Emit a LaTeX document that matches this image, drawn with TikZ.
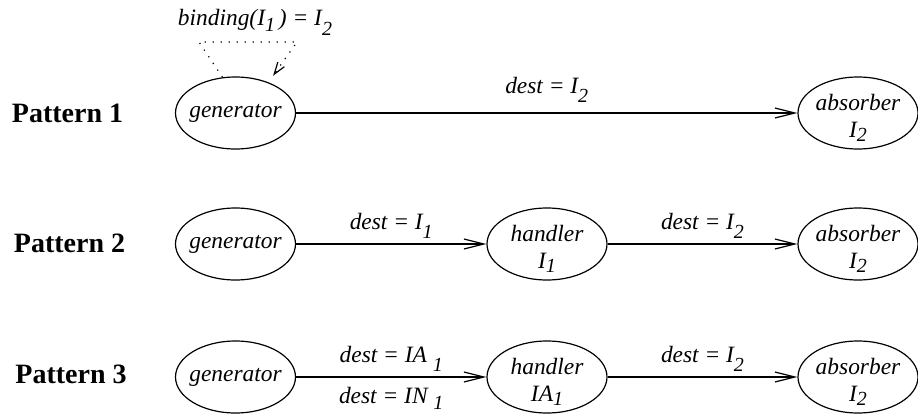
\documentclass[tikz,border=0pt]{standalone}
\usepackage{fontspec}
\setmainfont{Liberation Serif}
\usetikzlibrary{arrows.meta,shapes.geometric}
\newcommand{\subidx}[2][4.5pt]{\raisebox{-#1}{\fontsize{10}{12}\selectfont #2}}
\tikzset{
  flowarrow/.style={-{Straight Barb[length=10pt, width=5pt]}, line width=0.6pt},
  bindarrow/.style={-{Straight Barb[length=6pt, width=4pt]}, line width=0.6pt, dash pattern=on 0.6pt off 3.4pt},
  proc/.style={draw, ellipse, line width=0.6pt, minimum width=60pt, minimum height=36pt, inner sep=0pt},
  proclabel/.style={font=\fontsize{11.7}{13.5}\selectfont\itshape, align=center, inner sep=0pt},
  destlabel/.style={font=\fontsize{11.7}{13.5}\selectfont\itshape, inner sep=1pt},
  patternlabel/.style={font=\fontsize{14}{16}\selectfont\bfseries, anchor=base}
}
\begin{document}
\begin{tikzpicture}[x=0.5pt, y=-0.5pt]
  \useasboundingbox (0,0) rectangle (918,418);
  % row labels
  \node[patternlabel] (pat1) at (67.5,122) {Pattern 1};
  \node[patternlabel] (pat2) at (69.5,252) {Pattern 2};
  \node[patternlabel] (pat3) at (71,383) {Pattern 3};
  % pattern 1
  \node[proc, label={[proclabel]center:generator}] (gen1) at (235.5,113) {};
  \node[proc, label={[proclabel, yshift=-2.5pt]center:{absorber\\I\subidx[2pt]{2}}}] (abs1) at (858,113) {};
  \draw[flowarrow] (gen1) -- (abs1) node[destlabel, midway, above=4pt] {dest = I\subidx{2}};
  \node[destlabel, anchor=base] (bind) at (255,25) {binding(I\subidx[3pt]{1}\,) = I\subidx[5pt]{2}};
  \coordinate (bindL) at (199,42);
  \coordinate (bindR) at (297,42);
  \draw[bindarrow, shorten >=4pt] (gen1.110) -- (bindL) -- (bindR) -- (gen1.43);
  % pattern 2
  \node[proc, label={[proclabel]center:generator}] (gen2) at (235.5,244) {};
  \node[proc, label={[proclabel, yshift=-2.5pt]center:{handler\\I\subidx[2pt]{1}}}] (hand2) at (547,244) {};
  \node[proc, label={[proclabel, yshift=-2.5pt]center:{absorber\\I\subidx[2pt]{2}}}] (abs2) at (858,244) {};
  \draw[flowarrow] (gen2) -- (hand2) node[destlabel, midway, above=1.5pt] {dest = I\subidx{1}};
  \draw[flowarrow] (hand2) -- (abs2) node[destlabel, midway, above=1.5pt] {dest = I\subidx{2}};
  % pattern 3
  \node[proc, label={[proclabel]center:generator}] (gen3) at (235.5,377) {};
  \node[proc, label={[proclabel, yshift=-2.5pt]center:{handler\\IA\subidx[2pt]{1}}}] (hand3) at (547,377) {};
  \node[proc, label={[proclabel, yshift=-2.5pt]center:{absorber\\I\subidx[2pt]{2}}}] (abs3) at (858,377) {};
  \draw[flowarrow] (gen3) -- (hand3)
    node[destlabel, midway, above=1.5pt] {dest = IA \subidx{1}}
    node[destlabel, midway, below=4pt] {dest = IN \subidx[3pt]{1}};
  \draw[flowarrow] (hand3) -- (abs3) node[destlabel, midway, above=1.5pt] {dest = I\subidx{2}};
\end{tikzpicture}
\end{document}
